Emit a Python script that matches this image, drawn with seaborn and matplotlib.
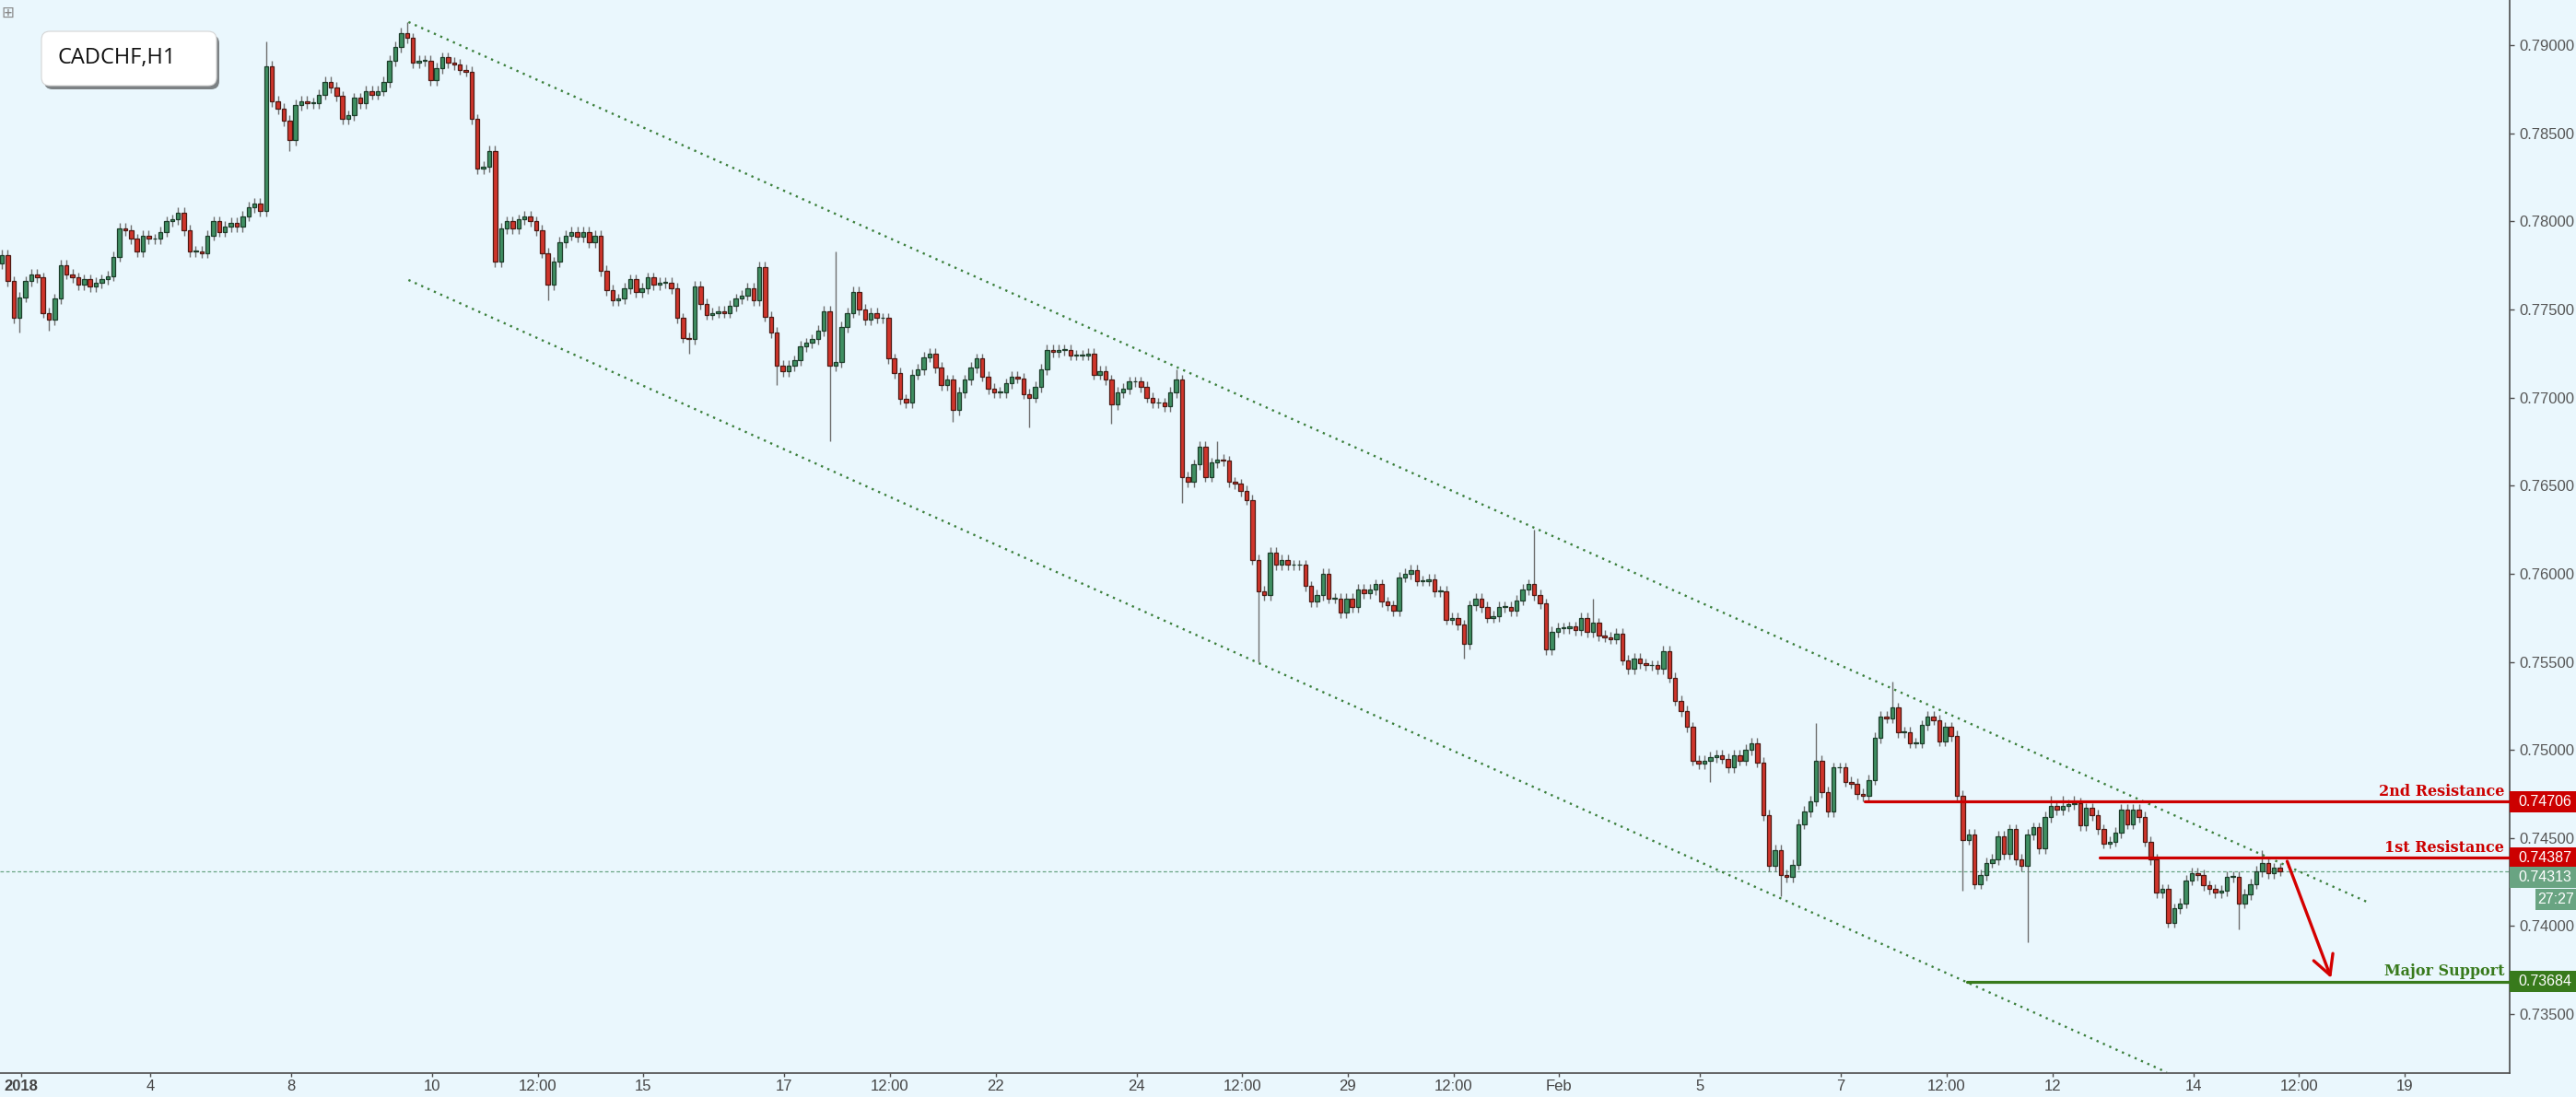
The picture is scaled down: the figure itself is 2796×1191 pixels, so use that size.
import numpy as np
import pandas as pd
import seaborn as sns
import matplotlib.pyplot as plt
from matplotlib.patches import FancyBboxPatch, Rectangle
from matplotlib.transforms import blended_transform_factory

# CADCHF H1 -- closes every 2 hours, in pips (x 0.0001)
first_open = 7776
closes = [
    7781, 7766, 7745, 7757, 7766, 7770, 7768, 7748, 7744, 7756,
    7775, 7770, 7768, 7764, 7767, 7763, 7765, 7767, 7769, 7780,
    7796, 7795, 7790, 7783, 7792, 7790, 7790, 7794, 7800, 7801,
    7805, 7795, 7783, 7783, 7782, 7792, 7800, 7794, 7797, 7799,
    7797, 7803, 7808, 7810, 7806, 7888, 7868, 7864, 7857, 7846,
    7866, 7868, 7867, 7867, 7872, 7879, 7876, 7871, 7858, 7860,
    7870, 7867, 7874, 7872, 7874, 7879, 7891, 7899, 7907, 7904,
    7890, 7891, 7891, 7880, 7887, 7893, 7890, 7889, 7886, 7885,
    7858, 7830, 7831, 7840, 7777, 7796, 7800, 7796, 7801, 7803,
    7800, 7795, 7782, 7764, 7777, 7788, 7792, 7794, 7791, 7794,
    7788, 7792, 7772, 7761, 7755, 7756, 7762, 7767, 7760, 7762,
    7768, 7764, 7765, 7765, 7762, 7745, 7734, 7733, 7763, 7753,
    7747, 7748, 7749, 7748, 7752, 7756, 7758, 7762, 7755, 7774,
    7746, 7737, 7718, 7715, 7718, 7721, 7729, 7731, 7733, 7738,
    7749, 7718, 7720, 7740, 7748, 7760, 7750, 7744, 7748, 7745,
    7745, 7722, 7714, 7699, 7697, 7713, 7716, 7723, 7725, 7717,
    7707, 7710, 7693, 7703, 7710, 7717, 7722, 7712, 7705, 7703,
    7703, 7708, 7712, 7711, 7702, 7700, 7706, 7716, 7727, 7726,
    7727, 7727, 7724, 7724, 7724, 7725, 7713, 7715, 7710, 7696,
    7703, 7705, 7709, 7709, 7706, 7700, 7697, 7697, 7695, 7703,
    7710, 7655, 7652, 7662, 7672, 7655, 7663, 7665, 7664, 7652,
    7651, 7647, 7642, 7608, 7590, 7588, 7612, 7605, 7608, 7605,
    7605, 7605, 7593, 7584, 7588, 7600, 7586, 7586, 7578, 7586,
    7581, 7591, 7589, 7591, 7594, 7584, 7582, 7579, 7598, 7600,
    7602, 7596, 7596, 7597, 7590, 7590, 7574, 7575, 7571, 7560,
    7582, 7586, 7581, 7575, 7576, 7581, 7581, 7579, 7585, 7591,
    7594, 7588, 7583, 7557, 7567, 7569, 7569, 7570, 7568, 7575,
    7567, 7572, 7565, 7564, 7563, 7566, 7551, 7546, 7552, 7549,
    7548, 7548, 7546, 7556, 7541, 7528, 7522, 7513, 7494, 7492,
    7494, 7496, 7497, 7495, 7490, 7497, 7494, 7500, 7504, 7493,
    7463, 7434, 7443, 7429, 7428, 7435, 7458, 7465, 7471, 7494,
    7476, 7465, 7490, 7490, 7482, 7481, 7475, 7474, 7483, 7507,
    7519, 7518, 7524, 7510, 7510, 7504, 7504, 7514, 7519, 7517,
    7505, 7513, 7508, 7474, 7449, 7452, 7424, 7429, 7436, 7438,
    7451, 7441, 7455, 7438, 7434, 7452, 7456, 7444, 7462, 7468,
    7466, 7468, 7469, 7470, 7457, 7467, 7463, 7455, 7447, 7448,
    7453, 7466, 7458, 7466, 7462, 7448, 7438, 7419, 7421, 7402,
    7410, 7413, 7426, 7430, 7429, 7423, 7421, 7419, 7420, 7428,
    7428, 7413, 7418, 7424, 7431, 7436, 7430, 7433, 7431.3,
]
# long wicks (bar number -> pips)
wick_highs = {45: 7902, 69: 7913, 142: 7783, 200: 7716, 207: 7675, 261: 7625,
              271: 7586, 309: 7515, 322: 7539, 349: 7474, 351: 7474, 353: 7474,
              385: 7443}
wick_lows = {3: 7737, 8: 7738, 49: 7840, 84: 7775, 93: 7755, 117: 7725,
             132: 7707, 141: 7675, 162: 7686, 175: 7683, 189: 7685, 201: 7640,
             214: 7550, 249: 7552, 291: 7482, 303: 7417, 334: 7420, 345: 7391,
             381: 7398}

level_names = ["2nd Resistance", "1st Resistance", "Major Support"]
level_prices = [0.74706, 0.74387, 0.73684]
level_starts = ["2018-02-07 08:00", "2018-02-12 16:00", "2018-02-08 19:00"]
level_colors = ["#cc0000", "#cc0000", "#387a1c"]

upper_times = ["2018-01-09 16:00", "2018-02-16 11:00"]
upper_prices = [0.79131, 0.74139]
lower_times = ["2018-01-09 16:00", "2018-02-13 15:00"]
lower_prices = [0.77667, 0.73170]

arrow_times = ["2018-02-15 08:00", "2018-02-15 23:00"]
arrow_prices = [0.74368, 0.73705]

last_price = 0.74313
countdown = "27:27"

tick_times = ["2018-01-02 04:00", "2018-01-04", "2018-01-08", "2018-01-10",
              "2018-01-11 12:00", "2018-01-15", "2018-01-17", "2018-01-18 12:00",
              "2018-01-22", "2018-01-24", "2018-01-25 12:00", "2018-01-29",
              "2018-01-30 12:00", "2018-02-01", "2018-02-05", "2018-02-07",
              "2018-02-08 12:00", "2018-02-12", "2018-02-14", "2018-02-15 12:00",
              "2018-02-19"]
tick_labels = ["2018", "4", "8", "10", "12:00", "15", "17", "12:00", "22", "24",
               "12:00", "29", "12:00", "Feb", "5", "7", "12:00", "12", "14",
               "12:00", "19"]

BG = "#eaf7fd"
GREEN, GREEN_EDGE = "#3f8f62", "#1d3d2a"
RED, RED_EDGE = "#d0352b", "#4d1a14"
AXIS = "#4d4d4d"
LAST = "#69a482"

# trading hours, weekends removed (one slot per H1 bar)
hours = pd.date_range("2018-01-01 21:00", "2018-02-24", freq="h")
hours = hours[hours.dayofweek < 5]


def bar_pos(t):
    t = pd.Timestamp(t)
    base = t.floor("h")
    return hours.searchsorted(base) + (t - base) / pd.Timedelta(hours=1)


c = np.array(closes) / 10000
o = np.concatenate([[first_open / 10000], c[:-1]])
n = len(c)
x = np.array([bar_pos(t) for t in hours[::2][:n]]) + 0.5
pad = 3 / 10000  # normal wick overhang
hi = np.maximum(o, c) + pad
lo = np.minimum(o, c) - pad
for k, v in wick_highs.items():
    hi[k] = max(v / 10000, hi[k])
for k, v in wick_lows.items():
    lo[k] = min(v / 10000, lo[k])

sns.set_style("white", {"axes.facecolor": BG, "figure.facecolor": BG})
plt.rcParams["font.family"] = ["Liberation Sans", "DejaVu Sans"]

W, H = 2796, 1191
fig = plt.figure(figsize=(W / 100, H / 100), dpi=100)
ax = fig.add_axes([0, 26 / H, 2724 / W, 1165 / H])
ymin, ymax = 0.73166, 0.79256
xmax = 854.8
ax.set_xlim(-0.16, xmax)
ax.set_ylim(ymin, ymax)
px_per_price = 1165 / (ymax - ymin)

# current price line
ax.axhline(last_price, color=LAST, lw=0.9, ls=(0, (3, 2)), zorder=1)

# channel
for tt, pp in [(upper_times, upper_prices), (lower_times, lower_prices)]:
    sns.lineplot(x=[bar_pos(t) for t in tt], y=pp, ax=ax, color="#3b7f3b",
                 lw=1.7, linestyle=(0, (1, 2.2)), estimator=None, zorder=2)

# candles
ax.vlines(x, lo, hi, color="#6f6f6f", lw=1.0, zorder=3)
up = c >= o
body = np.maximum(np.abs(c - o), 0.00004)
ax.bar(x[up], body[up], width=1.4, bottom=np.minimum(o, c)[up], color=GREEN,
       edgecolor=GREEN_EDGE, lw=0.9, zorder=4)
ax.bar(x[~up], body[~up], width=1.4, bottom=np.minimum(o, c)[~up], color=RED,
       edgecolor=RED_EDGE, lw=0.9, zorder=4)

# levels
for name, price, start, col in zip(level_names, level_prices, level_starts, level_colors):
    sns.lineplot(x=[bar_pos(start), xmax], y=[price, price], ax=ax, color=col,
                 lw=2.3, estimator=None, zorder=5)
    ax.annotate(name, xy=(2718 / 2724, price), xycoords=("axes fraction", "data"),
                xytext=(0, 2), textcoords="offset points", ha="right", va="bottom",
                fontsize=11.5, fontweight="bold", color=col,
                family=["DejaVu Serif"], zorder=6)

# arrow
ax.annotate("", xy=(bar_pos(arrow_times[1]), arrow_prices[1]),
            xytext=(bar_pos(arrow_times[0]), arrow_prices[0]),
            arrowprops=dict(arrowstyle="->,head_length=0.75,head_width=0.4",
                            color="#d40000", lw=2.4, mutation_scale=20,
                            shrinkA=0, shrinkB=0), zorder=6)

# axes look
for s in ["top", "left"]:
    ax.spines[s].set_visible(False)
for s in ["right", "bottom"]:
    ax.spines[s].set_color(AXIS)
    ax.spines[s].set_linewidth(1.2)
ax.yaxis.tick_right()
yt = np.arange(0.735, 0.79001, 0.005)
ax.set_yticks(yt)
ax.set_yticklabels([f"{v:.5f}" for v in yt])
ax.set_xticks([bar_pos(t) for t in tick_times])
ax.set_xticklabels(tick_labels)
ax.tick_params(axis="y", right=True, length=3.5, width=1, color=AXIS,
               labelsize=12, labelcolor="#555555", pad=4)
ax.tick_params(axis="x", bottom=True, length=3, width=1, color=AXIS,
               labelsize=12, labelcolor="#444444", pad=2)
for lbl in ax.get_xticklabels():
    lbl.set_family(["Liberation Sans Narrow", "Liberation Sans"])
ax.get_xticklabels()[0].set_fontweight("bold")
ax.grid(False)

# price tags on the right scale
bt = blended_transform_factory(fig.transFigure, ax.transData)
box_h = 23 / px_per_price


def price_tag(price, text, color, left=2724, text_x=2733):
    fig.add_artist(Rectangle((left / W, price - box_h / 2), (W - left) / W, box_h,
                             transform=bt, facecolor=color, edgecolor="none",
                             zorder=5))
    fig.text(text_x / W, price, text, transform=bt, color="white", fontsize=11.5,
             va="center", ha="left", zorder=6)


price_tag(level_prices[0], f"{level_prices[0]:.5f}", level_colors[0])
price_tag(level_prices[1], f"{level_prices[1]:.5f}", level_colors[1])
price_tag(last_price - 7 / px_per_price, f"{last_price:.5f}", LAST)
price_tag(last_price - 30.5 / px_per_price, countdown, LAST, left=2752, text_x=2754)
price_tag(level_prices[2], f"{level_prices[2]:.5f}", level_colors[2])

# symbol box
shadow = FancyBboxPatch((48, 1094), 190, 59, boxstyle="round,pad=0,rounding_size=9",
                        transform=None, fc="#333333", ec="none", alpha=0.6, zorder=5)
box = FancyBboxPatch((45, 1098), 190, 59, boxstyle="round,pad=0,rounding_size=9",
                     transform=None, fc="white", ec="#d5d5d5", lw=0.8, zorder=6)
fig.add_artist(shadow)
fig.add_artist(box)
fig.text(62 / W, 1 - 63 / H, "CADCHF,H1", fontsize=17, color="#111111", va="center",
         family=["Open Sans", "DejaVu Sans"], zorder=7)
fig.text(1 / W, 1 - 14 / H, "\u229e", fontsize=12, color="#888888", va="center",
         family=["DejaVu Sans"], zorder=7)

fig.savefig("out.png", dpi=100, facecolor=BG)
